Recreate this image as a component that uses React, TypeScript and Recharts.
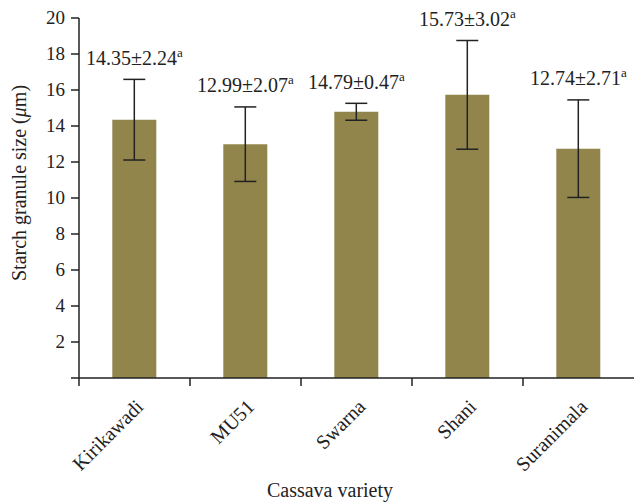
import { BarChart, Bar, XAxis, YAxis, ErrorBar, LabelList } from "recharts";

const varieties = ["Kirikawadi", "MU51", "Swarna", "Shani", "Suranimala"];
const meanSize = [14.35, 12.99, 14.79, 15.73, 12.74];
const sdSize = [2.24, 2.07, 0.47, 3.02, 2.71];
const yTicks = [0, 2, 4, 6, 8, 10, 12, 14, 16, 18, 20];

const data = varieties.map((name, i) => ({ name, mean: meanSize[i], sd: sdSize[i] }));

const FONT = "'Liberation Serif', 'DejaVu Serif', serif";
const BAR = "#91854c";
const INK = "#222";

function XTick(props: any) {
  const { x, y, payload } = props;
  const band = 111;
  const ex = x + 10;
  const ey = y + 22;
  return (
    <g>
      <line x1={x - band / 2} y1={y - 8} x2={x - band / 2} y2={y} stroke={INK} strokeWidth={1.5} />
      <text
        x={ex}
        y={ey}
        textAnchor="end"
        transform={`rotate(-45 ${ex} ${ey})`}
        fontFamily={FONT}
        fontSize={20}
        fill={INK}
      >
        {payload.value}
      </text>
    </g>
  );
}

function YTick(props: any) {
  const { x, y, payload } = props;
  if (payload.value === 0) return null;
  return (
    <text x={x - 4} y={y + 6} textAnchor="end" fontFamily={FONT} fontSize={19} fill={INK}>
      {payload.value}
    </text>
  );
}

function ValueLabel(props: any) {
  const { x, width, index } = props;
  const top = 377.3 - (meanSize[index] + sdSize[index]) * 18;
  const cx = x + width / 2;
  return (
    <text x={cx} y={top - 14} textAnchor="middle" fontFamily={FONT} fontSize={20} fill={INK}>
      {meanSize[index].toFixed(2)}±{sdSize[index].toFixed(2)}
      <tspan dy={-8} fontSize={13}>a</tspan>
    </text>
  );
}

export default function App() {
  return (
    <div style={{ position: "relative", width: 634, height: 503, background: "#fff" }}>
      <style>{`body{margin:0}`}</style>
      <BarChart
        width={634}
        height={503}
        data={data}
        margin={{ top: 18, right: 0, bottom: 0, left: 0 }}
        barCategoryGap="30%"
      >
        <XAxis
          dataKey="name"
          axisLine={{ stroke: INK, strokeWidth: 1.5 }}
          tickLine={false}
          tick={<XTick />}
          height={125}
          interval={0}
        />
        <YAxis
          domain={[0, 20]}
          ticks={yTicks}
          width={79}
          axisLine={{ stroke: INK, strokeWidth: 1.5 }}
          tickLine={{ stroke: INK, strokeWidth: 1.5 }}
          tickSize={8}
          tick={<YTick />}
          interval={0}
        />
        <Bar dataKey="mean" fill={BAR} isAnimationActive={false}>
          <ErrorBar dataKey="sd" width={11} stroke={INK} strokeWidth={1.5} />
          <LabelList dataKey="mean" content={<ValueLabel />} />
        </Bar>
      </BarChart>
      <div
        style={{
          position: "absolute",
          left: 19,
          top: 183,
          transform: "translate(-50%, -50%) rotate(-90deg)",
          whiteSpace: "nowrap",
          fontFamily: FONT,
          fontSize: 20,
          color: INK,
        }}
      >
        Starch granule size (<i>μ</i>m)
      </div>
      <div
        style={{
          position: "absolute",
          left: 330,
          top: 479,
          transform: "translateX(-50%)",
          whiteSpace: "nowrap",
          fontFamily: FONT,
          fontSize: 20,
          color: INK,
        }}
      >
        Cassava variety
      </div>
    </div>
  );
}
